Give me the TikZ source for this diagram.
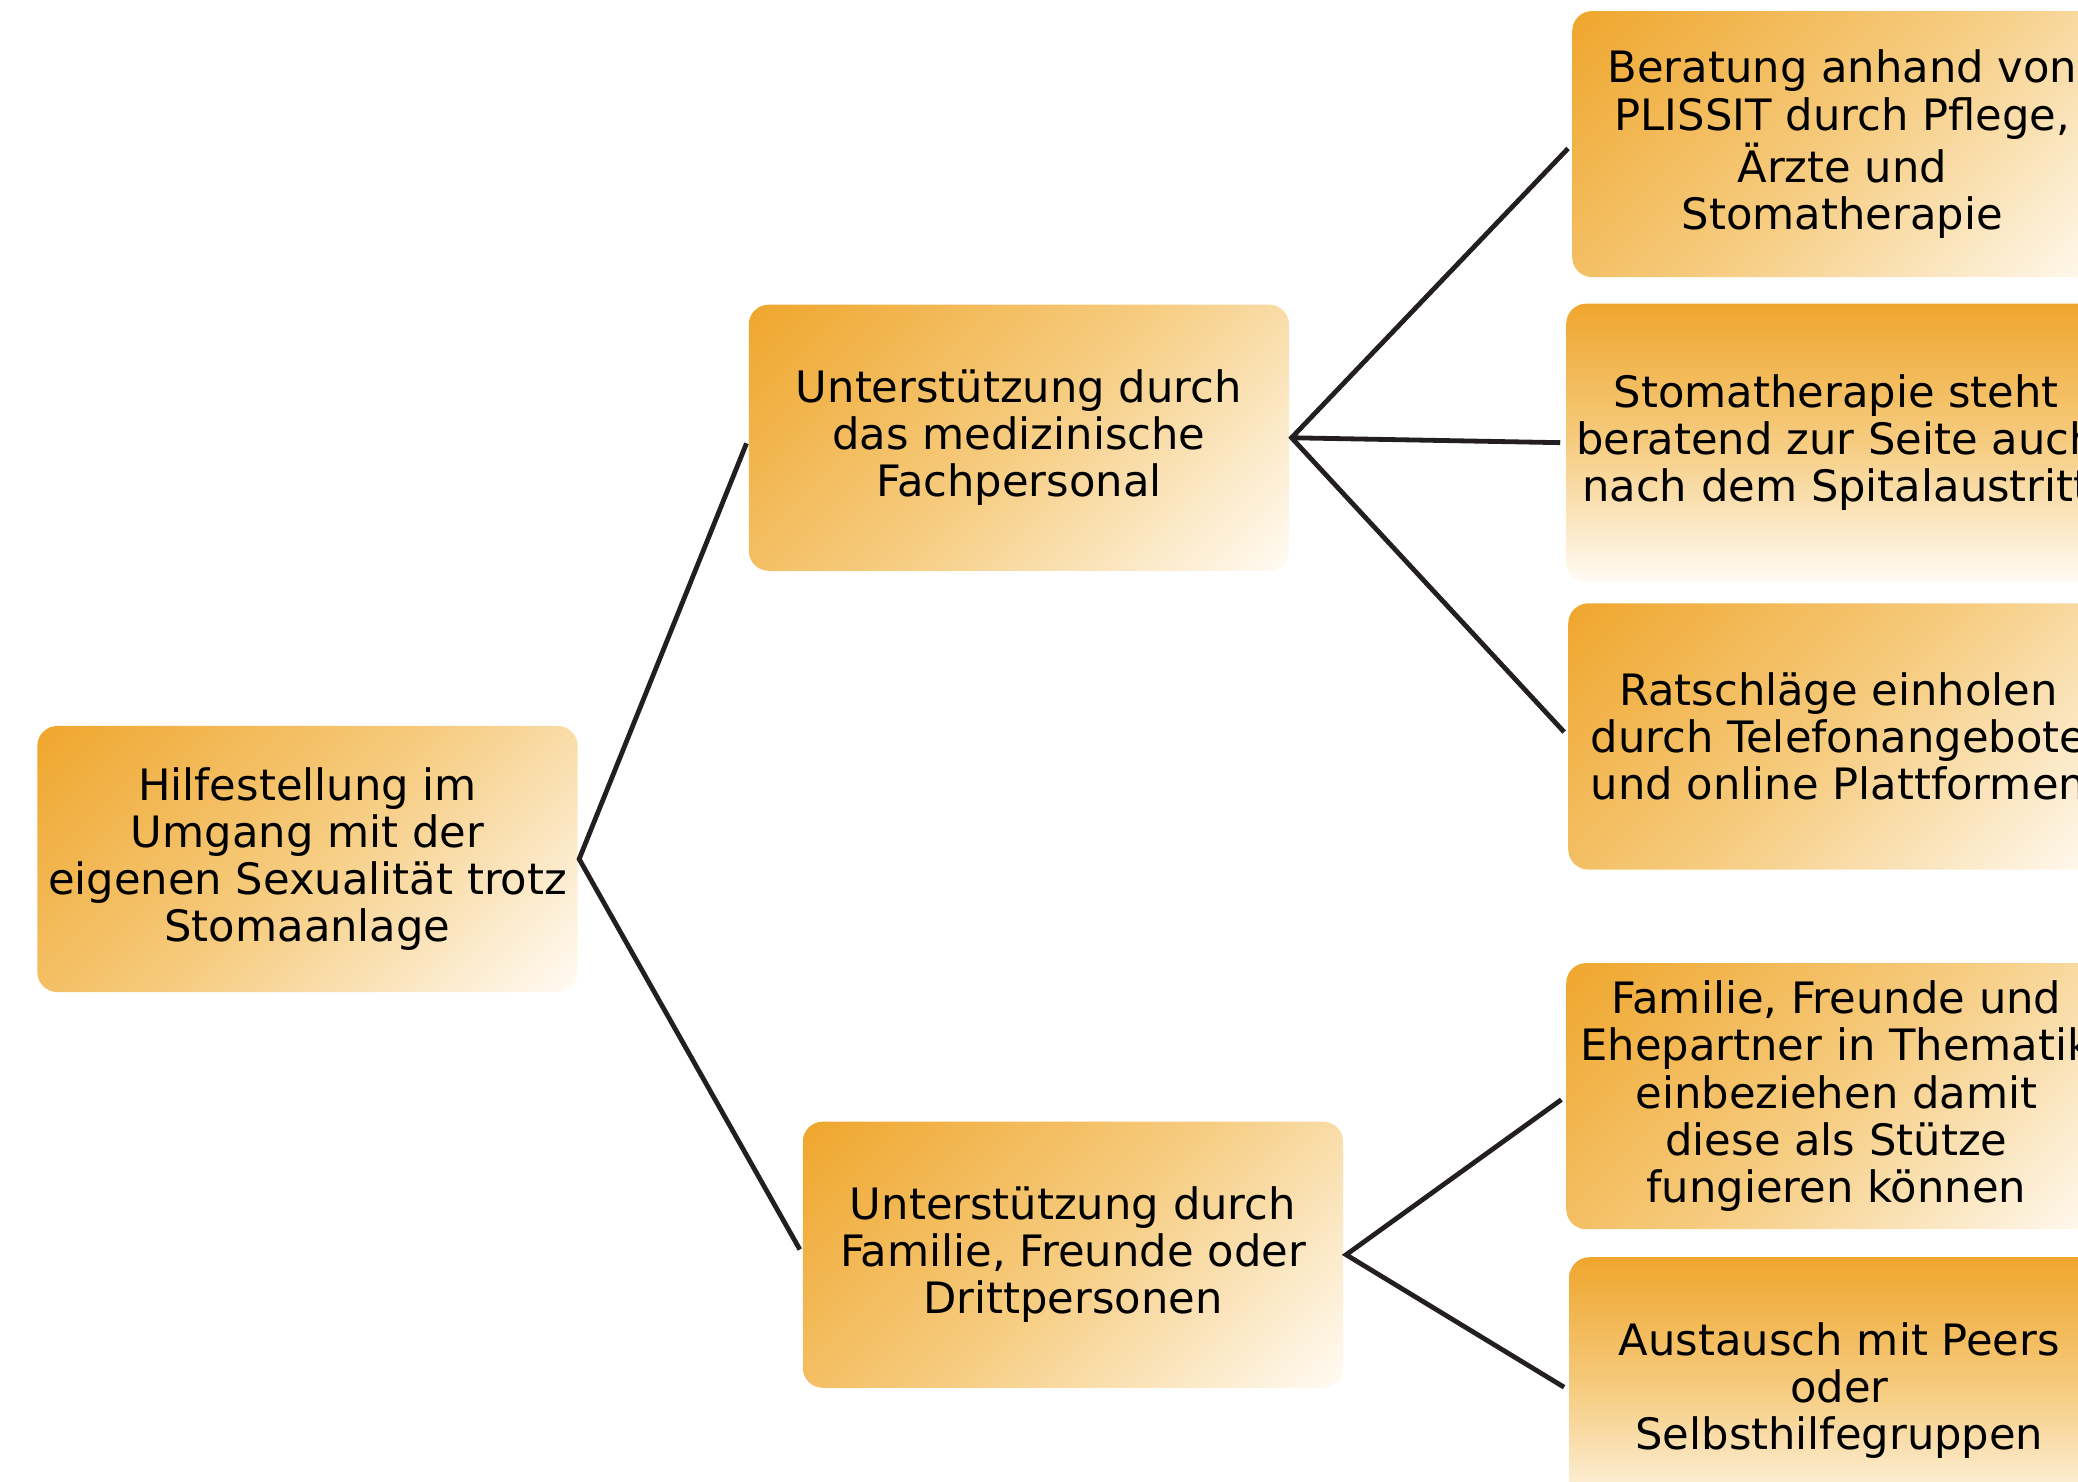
\documentclass[tikz,border=0pt]{standalone}
\usepackage{fontspec}
\setmainfont{DejaVu Sans}
\usetikzlibrary{positioning}
\definecolor{box_top}{RGB}{239,166,45}
\definecolor{box_mid}{RGB}{246,204,128}
\definecolor{box_low}{RGB}{255,251,244}
\definecolor{link_gray}{RGB}{35,31,32}
\pgfdeclareverticalshading{diag_shade}{100bp}{color(0bp)=(box_low); color(14.6bp)=(box_low); color(50bp)=(box_mid); color(85.4bp)=(box_top); color(100bp)=(box_top)}

\begin{document}
\begin{tikzpicture}
    [
        x=0.01cm, y=-0.01cm, on grid,
        every node/.style={font=\fontsize{12.3}{13.4}\selectfont, align=center, inner sep=0pt, outer sep=0pt},
        base_box/.style={rounded corners=0.2cm, minimum width=5.4cm, minimum height=2.66cm},
        diag_box/.style={base_box, shading=diag_shade, shading angle=45},
        vert_box/.style={base_box, top color=box_top, bottom color=box_low, middle color=box_mid},
        link/.style={line width=0.048cm, color=link_gray, shorten <=0.06cm, shorten >=0.06cm},
    ]
        \useasboundingbox (0,0) rectangle (2078,1481) ;
        \clip (0,0) rectangle (2078,1481) ;
        \node[diag_box] (root) at (307.5,859) {Hilfestellung im\\Umgang mit der\\eigenen Sexualität trotz\\Stomaanlage} ;
        \node[diag_box] (medical) [above right = 4.21cm and 7.11cm of root] {Unterstützung durch\\das medizinische\\Fachpersonal} ;
        \node[diag_box] (family) [below right = 3.955cm and 7.65cm of root] {Unterstützung durch\\Familie, Freunde oder\\Drittpersonen} ;
        \node[diag_box] (plissit) [above right = 2.935cm and 8.23cm of medical] {Beratung anhand von\\PLISSIT durch Pflege,\\Ärzte und\\Stomatherapie} ;
        \node[vert_box, minimum height=2.78cm] (stoma) [below right = 0.05cm and 8.17cm of medical] {Stomatherapie steht\\beratend zur Seite auch\\nach dem Spitalaustritt} ;
        \node[diag_box] (advice) [below right = 2.985cm and 8.19cm of medical] {Ratschläge einholen\\durch Telefonangebote\\und online Plattformen} ;
        \node[diag_box] (relatives) [above right = 1.585cm and 7.63cm of family] {Familie, Freunde und\\Ehepartner in Thematik\\einbeziehen damit\\diese als Stütze\\fungieren können} ;
        \node[vert_box] (peers) [below right = 1.355cm and 7.66cm of family] {Austausch mit Peers\\oder\\Selbsthilfegruppen} ;
        \draw[link] (medical.west) -- ([xshift=0.015cm]root.east) -- (family.west) ;
        \draw[link] (plissit.west) -- ([xshift=0.025cm]medical.east) -- (advice.west) ;
        \draw[link, shorten <=0pt] ([xshift=0.025cm]medical.east) -- (stoma.west) ;
        \draw[link] (relatives.west) -- ([xshift=0.03cm]family.east) -- (peers.west) ;
    \end{tikzpicture}
\end{document}
